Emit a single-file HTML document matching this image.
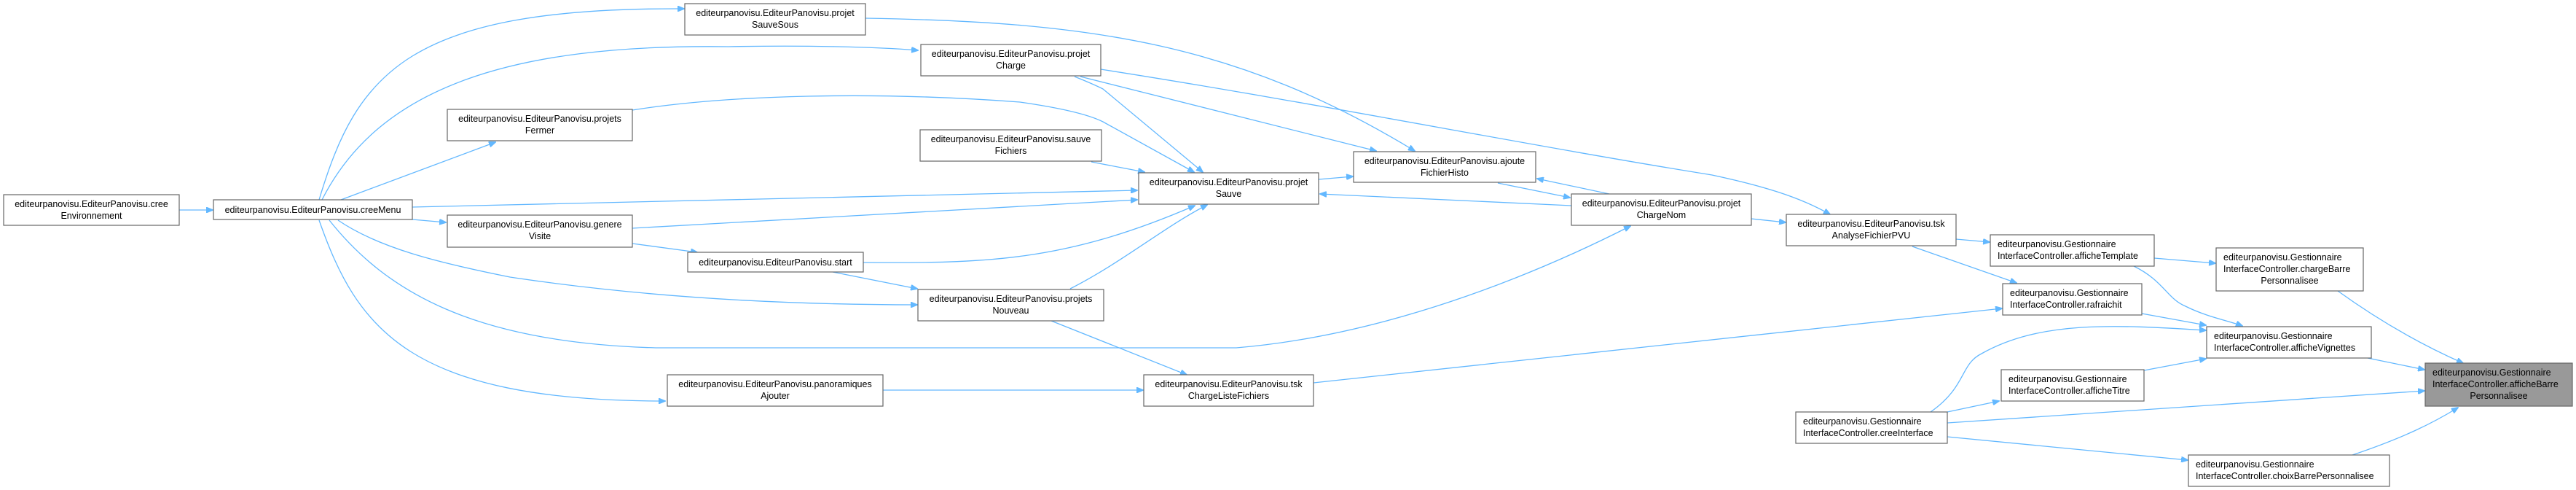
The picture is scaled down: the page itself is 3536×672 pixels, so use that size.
<!DOCTYPE html>
<html><head><meta charset="utf-8"><style>
html,body{margin:0;padding:0;background:#fff;}
svg{display:block;}
text{font-family:"Liberation Sans",Arial,sans-serif;font-size:12.5px;fill:#000;}
.b{fill:#fff;stroke:#666;stroke-width:1.2;}
.e{fill:none;stroke:#63b8ff;stroke-width:1.3;}
</style></head><body>
<svg width="3536" height="672" viewBox="0 0 3536 672" xmlns="http://www.w3.org/2000/svg">
<defs><marker id="a" markerWidth="10" markerHeight="8" refX="9" refY="4" orient="auto" markerUnits="userSpaceOnUse"><path d="M0,0 L10,4 L0,8 z" fill="#63b8ff" stroke="#63b8ff"/></marker></defs>
<g class="e" marker-end="url(#a)">
<path d="M246,288 L292,288"/>
<path d="M438,274 C490,100 560,10 939,12"/>
<path d="M442,274 C520,120 700,60 1000,64 C1100,62 1200,64 1260,69"/>
<path d="M468,274 L680,195"/>
<path d="M566,284 L1561,261"/>
<path d="M566,301 L612,305"/>
<path d="M464,302 C520,340 600,360 700,380 C900,410 1100,418 1259,418"/>
<path d="M452,302 C530,400 650,470 900,477 L1697,477 C1900,460 2100,380 2238,310"/>
<path d="M438,302 C490,450 560,550 913,550"/>
<path d="M868,313 L1561,274"/>
<path d="M868,334 L957,346"/>
<path d="M1185,360 C1350,361 1460,360 1640,282"/>
<path d="M1143,373 L1259,396"/>
<path d="M868,151 C1000,130 1200,125 1400,140 C1470,150 1500,160 1514,167 L1639,236"/>
<path d="M1188,25 C1500,30 1700,60 1942,207"/>
<path d="M1475,105 C1500,115 1514,122 1514,122 L1651,236"/>
<path d="M1483,105 L1889,207"/>
<path d="M1511,95 C1800,140 2100,200 2350,240 C2420,255 2470,270 2512,294"/>
<path d="M1498,222 L1571,236"/>
<path d="M1469,396 C1540,360 1600,310 1657,281"/>
<path d="M1443,440 L1629,514"/>
<path d="M1212,535 L1569,535"/>
<path d="M1810,246 L1857,242"/>
<path d="M2056,251 L2155,271"/>
<path d="M2209,266 L2110,245"/>
<path d="M2157,282 L1812,266"/>
<path d="M2404,300 L2451,305"/>
<path d="M2685,328 L2731,332"/>
<path d="M2625,338 L2768,388"/>
<path d="M1803,525 L2748,423"/>
<path d="M2957,354 L3041,361"/>
<path d="M2929,365 C2970,385 2975,410 3000,420 C3030,435 3060,440 3078,447"/>
<path d="M2940,430 L3028,446"/>
<path d="M2650,565 C2700,530 2690,500 2720,485 C2800,440 2900,445 3028,453"/>
<path d="M2943,508 L3028,492"/>
<path d="M2673,565 L2744,550"/>
<path d="M2673,580 L3328,536"/>
<path d="M2673,599 L3003,631"/>
<path d="M3209,399 C3280,450 3340,480 3381,498"/>
<path d="M3250,491 L3328,507"/>
<path d="M3229,624 C3300,600 3340,580 3374,559"/>
</g>
<g>
<rect class="b" x="5" y="267" width="241" height="42"/>
<text x="125.5" y="284" text-anchor="middle">editeurpanovisu.EditeurPanovisu.cree</text>
<text x="125.5" y="300" text-anchor="middle">Environnement</text>

<rect class="b" x="293" y="274" width="273" height="27"/>
<text x="429.5" y="292" text-anchor="middle">editeurpanovisu.EditeurPanovisu.creeMenu</text>

<rect class="b" x="940" y="5" width="248" height="43"/>
<text x="1064" y="22" text-anchor="middle">editeurpanovisu.EditeurPanovisu.projet</text>
<text x="1064" y="38" text-anchor="middle">SauveSous</text>

<rect class="b" x="614" y="150" width="254" height="43"/>
<text x="741" y="167" text-anchor="middle">editeurpanovisu.EditeurPanovisu.projets</text>
<text x="741" y="183" text-anchor="middle">Fermer</text>

<rect class="b" x="614" y="295" width="254" height="44"/>
<text x="741" y="312" text-anchor="middle">editeurpanovisu.EditeurPanovisu.genere</text>
<text x="741" y="328" text-anchor="middle">Visite</text>

<rect class="b" x="944" y="346" width="241" height="27"/>
<text x="1064.5" y="364" text-anchor="middle">editeurpanovisu.EditeurPanovisu.start</text>

<rect class="b" x="916" y="514" width="296" height="43"/>
<text x="1064" y="531" text-anchor="middle">editeurpanovisu.EditeurPanovisu.panoramiques</text>
<text x="1064" y="547" text-anchor="middle">Ajouter</text>

<rect class="b" x="1264" y="61" width="247" height="43"/>
<text x="1387.5" y="78" text-anchor="middle">editeurpanovisu.EditeurPanovisu.projet</text>
<text x="1387.5" y="94" text-anchor="middle">Charge</text>

<rect class="b" x="1263" y="178" width="249" height="43"/>
<text x="1387.5" y="195" text-anchor="middle">editeurpanovisu.EditeurPanovisu.sauve</text>
<text x="1387.5" y="211" text-anchor="middle">Fichiers</text>

<rect class="b" x="1563" y="237" width="247" height="43"/>
<text x="1686.5" y="254" text-anchor="middle">editeurpanovisu.EditeurPanovisu.projet</text>
<text x="1686.5" y="270" text-anchor="middle">Sauve</text>

<rect class="b" x="1858" y="208" width="250" height="42"/>
<text x="1983" y="225" text-anchor="middle">editeurpanovisu.EditeurPanovisu.ajoute</text>
<text x="1983" y="241" text-anchor="middle">FichierHisto</text>

<rect class="b" x="2157" y="266" width="247" height="43"/>
<text x="2280.5" y="283" text-anchor="middle">editeurpanovisu.EditeurPanovisu.projet</text>
<text x="2280.5" y="299" text-anchor="middle">ChargeNom</text>

<rect class="b" x="1260" y="397" width="255" height="43"/>
<text x="1387.5" y="414" text-anchor="middle">editeurpanovisu.EditeurPanovisu.projets</text>
<text x="1387.5" y="430" text-anchor="middle">Nouveau</text>

<rect class="b" x="1570" y="514" width="233" height="43"/>
<text x="1686.5" y="531" text-anchor="middle">editeurpanovisu.EditeurPanovisu.tsk</text>
<text x="1686.5" y="547" text-anchor="middle">ChargeListeFichiers</text>

<rect class="b" x="2452" y="294" width="233" height="43"/>
<text x="2568.5" y="311" text-anchor="middle">editeurpanovisu.EditeurPanovisu.tsk</text>
<text x="2568.5" y="327" text-anchor="middle">AnalyseFichierPVU</text>

<rect class="b" x="2732" y="322" width="225" height="43"/>
<text x="2742" y="339">editeurpanovisu.Gestionnaire</text>
<text x="2742" y="355">InterfaceController.afficheTemplate</text>

<rect class="b" x="3042" y="340" width="202" height="59"/>
<text x="3052" y="357">editeurpanovisu.Gestionnaire</text>
<text x="3052" y="373">InterfaceController.chargeBarre</text>
<text x="3143" y="389" text-anchor="middle">Personnalisee</text>

<rect class="b" x="2749" y="389" width="191" height="43"/>
<text x="2759" y="406">editeurpanovisu.Gestionnaire</text>
<text x="2759" y="422">InterfaceController.rafraichit</text>

<rect class="b" x="3029" y="448" width="226" height="43"/>
<text x="3039" y="465">editeurpanovisu.Gestionnaire</text>
<text x="3039" y="481">InterfaceController.afficheVignettes</text>

<rect class="b" x="2747" y="507" width="196" height="43"/>
<text x="2757" y="524">editeurpanovisu.Gestionnaire</text>
<text x="2757" y="540">InterfaceController.afficheTitre</text>

<rect class="b" x="2465" y="565" width="208" height="43"/>
<text x="2475" y="582">editeurpanovisu.Gestionnaire</text>
<text x="2475" y="598">InterfaceController.creeInterface</text>

<rect class="b" x="3004" y="624" width="276" height="43"/>
<text x="3014" y="641">editeurpanovisu.Gestionnaire</text>
<text x="3014" y="657">InterfaceController.choixBarrePersonnalisee</text>

<rect x="3329" y="498" width="202" height="59" fill="#999" stroke="#666" stroke-width="1.2"/>
<text x="3339" y="515">editeurpanovisu.Gestionnaire</text>
<text x="3339" y="531">InterfaceController.afficheBarre</text>
<text x="3430" y="547" text-anchor="middle">Personnalisee</text>
</g>
</svg>
</body></html>
